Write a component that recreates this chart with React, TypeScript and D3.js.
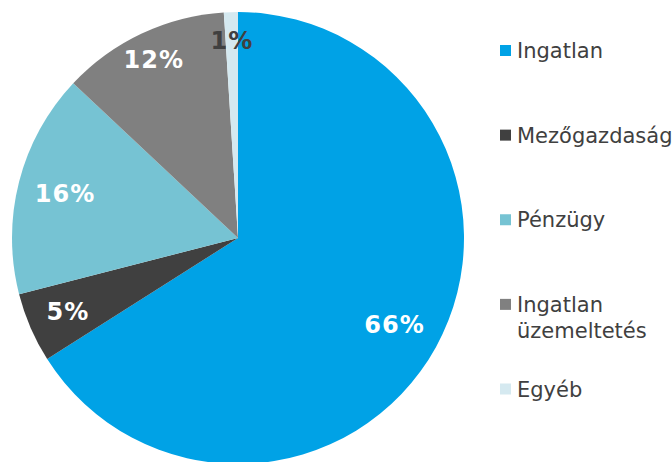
import React from "react";
import * as d3 from "d3";

const categories = ["Ingatlan", "Mezőgazdaság", "Pénzügy", "Ingatlan üzemeltetés", "Egyéb"];
const legendLines = [["Ingatlan"], ["Mezőgazdaság"], ["Pénzügy"], ["Ingatlan", "üzemeltetés"], ["Egyéb"]];
const values = [66, 5, 16, 12, 1];
const colors = ["#00A2E6", "#404040", "#76C3D3", "#808080", "#D5E9F0"];
const labelColors = ["#FFFFFF", "#FFFFFF", "#FFFFFF", "#FFFFFF", "#404040"];

export default function App() {
  const W = 672, H = 462;
  const cx = 238, cy = 238, R = 226;
  const pie = d3.pie<number>().sort(null).value((d) => d);
  const arcs = pie(values);
  const arc = d3.arc<d3.PieArcDatum<number>>().innerRadius(0).outerRadius(R);
  const labelFactor = (v: number) => (v >= 15 ? 0.79 : v >= 5 && v < 10 ? 0.82 : 0.875);
  const legendY = d3.scalePoint<number>().domain(d3.range(categories.length)).range([50.5, 389]);

  return (
    <svg width={W} height={H} style={{ position: "absolute", left: 0, top: 0 }} fontFamily="'DejaVu Sans', Verdana, sans-serif">
      <rect width={W} height={H} fill="#fff" />
      <g transform={`translate(${cx},${cy})`}>
        {arcs.map((a, i) => (
          <path key={i} d={arc(a) || ""} fill={colors[i]} />
        ))}
        {arcs.map((a, i) => {
          const mid = (a.startAngle + a.endAngle) / 2;
          const r = R * labelFactor(values[i]);
          const x = Math.sin(mid) * r;
          const y = -Math.cos(mid) * r;
          return (
            <text key={i} x={x} y={y} dy="0.36em" textAnchor="middle" fontWeight="bold" fontSize={24} letterSpacing={1} fill={labelColors[i]}>
              {values[i]}%
            </text>
          );
        })}
      </g>
      {categories.map((c, i) => {
        const y = legendY(i) as number;
        return (
          <g key={c}>
            <rect x={500} y={y - 5.5} width={11} height={11} fill={colors[i]} />
            <text x={517} y={y} fontSize={21} fill="#404040">
              {legendLines[i].map((l, j) => (
                <tspan key={j} x={517} dy={j === 0 ? "0.36em" : "1.22em"}>{l}</tspan>
              ))}
            </text>
          </g>
        );
      })}
    </svg>
  );
}
